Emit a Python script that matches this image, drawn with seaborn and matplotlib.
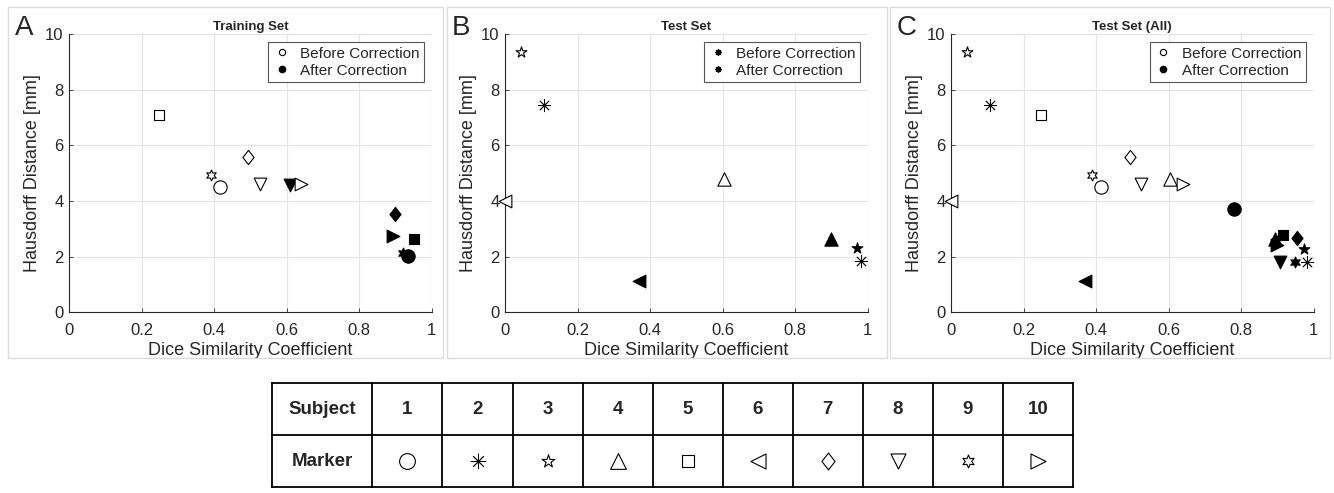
import numpy as np
import pandas as pd
import seaborn as sns
import matplotlib.pyplot as plt
from matplotlib.lines import Line2D
from matplotlib.patches import Rectangle
from matplotlib.path import Path

# subjects and the marker each one uses (matlab style)
subjects = [1, 2, 3, 4, 5, 6, 7, 8, 9, 10]

# training set (subjects 1,5,7,8,9,10)
train_subjects = [1, 5, 7, 8, 9, 10]
train_dsc_before = [0.415, 0.248, 0.493, 0.525, 0.39, 0.64]
train_hd_before = [4.49, 7.10, 5.60, 4.62, 4.92, 4.61]
train_dsc_after = [0.934, 0.95, 0.899, 0.61, 0.92, 0.893]
train_hd_after = [2.01, 2.63, 3.54, 4.59, 2.13, 2.73]

# test set (subjects 2,3,4,6)
test_subjects = [2, 3, 4, 6]
test_dsc_before = [0.108, 0.043, 0.603, 0.0]
test_hd_before = [7.45, 9.38, 4.80, 4.01]
test_dsc_after = [0.981, 0.97, 0.898, 0.37]
test_hd_after = [1.83, 2.31, 2.65, 1.14]

# test set (all subjects)
all_subjects = subjects
all_dsc_before = [0.415, 0.108, 0.043, 0.603, 0.248, 0.0, 0.493, 0.525, 0.39, 0.64]
all_hd_before = [4.49, 7.45, 9.38, 4.80, 7.10, 4.01, 5.60, 4.62, 4.92, 4.61]
all_dsc_after = [0.782, 0.982, 0.975, 0.895, 0.916, 0.37, 0.954, 0.908, 0.95, 0.90]
all_hd_after = [3.73, 1.80, 2.29, 2.65, 2.77, 1.14, 2.67, 1.80, 1.80, 2.42]

xticks = [0, 0.2, 0.4, 0.6, 0.8, 1]
xtick_labels = ['0', '0.2', '0.4', '0.6', '0.8', '1']
yticks = [0, 2, 4, 6, 8, 10]

# matlab-like diamond (wider than mpl 'd')
diamond = Path([(0, 1), (0.78, 0), (0, -1), (-0.78, 0), (0, 1)],
               [Path.MOVETO, Path.LINETO, Path.LINETO, Path.LINETO, Path.CLOSEPOLY])
asterisk = (8, 2, 0)

# marker, size (pt^2)
marker_style = {
    1: ('o', 92), 2: (asterisk, 80), 3: ('*', 66), 4: ('^', 92), 5: ('s', 48),
    6: ('<', 84), 7: (diamond, 105), 8: ('v', 84), 9: ((6, 1, 0), 62), 10: ('>', 84),
}

sns.set_style('ticks')
plt.rcParams['font.family'] = ['Liberation Sans', 'DejaVu Sans']

W, H = 1334, 493
fig = plt.figure(figsize=(W / 100, H / 100), dpi=100)


def px_axes(x0, y0, x1, y1):
    return fig.add_axes([x0 / W, 1 - y1 / H, (x1 - x0) / W, (y1 - y0) / H])


def make_df(subj, xb, yb, xa, ya):
    d1 = pd.DataFrame({'subject': subj, 'dsc': xb, 'hd': yb, 'state': 'before'})
    d2 = pd.DataFrame({'subject': subj, 'dsc': xa, 'hd': ya, 'state': 'after'})
    return pd.concat([d1, d2], ignore_index=True)


def draw_marker(ax, data, x, y, mk, sz, fc):
    if mk is asterisk:
        sns.scatterplot(data=data, x=x, y=y, marker=mk, s=sz, color='black',
                        linewidth=0.6, ax=ax, zorder=3, clip_on=False)
    else:
        sns.scatterplot(data=data, x=x, y=y, marker=mk, s=sz, color=fc,
                        edgecolor='black', linewidth=0.8, ax=ax, zorder=3,
                        clip_on=False)


panels = [
    ('A', 'Training Set', make_df(train_subjects, train_dsc_before, train_hd_before,
                                  train_dsc_after, train_hd_after), 69.3, 'o'),
    ('B', 'Test Set', make_df(test_subjects, test_dsc_before, test_hd_before,
                              test_dsc_after, test_hd_after), 505.3, 'ast'),
    ('C', 'Test Set (All)', make_df(all_subjects, all_dsc_before, all_hd_before,
                                    all_dsc_after, all_hd_after), 951.0, 'o'),
]

frames = [(8, 7, 443, 358), (447, 7, 887, 358), (890, 7, 1330, 358)]
for fx0, fy0, fx1, fy1 in frames:
    fig.patches.append(Rectangle((fx0 / W, 1 - fy1 / H), (fx1 - fx0) / W, (fy1 - fy0) / H,
                                 transform=fig.transFigure, fill=False,
                                 edgecolor='#dcdcdc', linewidth=1.0))

for letter, title, df, left, leg in panels:
    ax = px_axes(left, 34.3, left + 362.5, 312.2)
    for s in df['subject'].unique():
        mk, sz = marker_style[s]
        for state in ['before', 'after']:
            sub = df[(df['subject'] == s) & (df['state'] == state)]
            fc = 'white' if state == 'before' else 'black'
            draw_marker(ax, sub, 'dsc', 'hd', mk, sz, fc)
    ax.set_xlim(0, 1)
    ax.set_ylim(0, 10)
    ax.set_xticks(xticks)
    ax.set_xticklabels(xtick_labels)
    ax.set_yticks(yticks)
    ax.grid(True, color='#e4e4e4', linewidth=0.8)
    ax.set_axisbelow(True)
    for sp in ['top', 'right']:
        ax.spines[sp].set_visible(False)
    for sp in ['left', 'bottom']:
        ax.spines[sp].set_color('#262626')
        ax.spines[sp].set_linewidth(0.8)
    ax.tick_params(direction='in', length=3, width=0.6, labelsize=12, colors='#262626',
                   pad=4)
    ax.tick_params(axis='x', pad=8)
    ax.set_xlabel('Dice Similarity Coefficient', fontsize=13, labelpad=3, color='#262626')
    ax.set_ylabel('Hausdorff Distance [mm]', fontsize=13, labelpad=3, color='#262626')
    ax.set_title(title, fontsize=9.5, fontweight='bold', pad=3)

    if leg == 'o':
        handles = [Line2D([], [], marker='o', ls='', markersize=4.5, markerfacecolor='white',
                          markeredgecolor='black', markeredgewidth=0.8),
                   Line2D([], [], marker='o', ls='', markersize=4.5, markerfacecolor='black',
                          markeredgecolor='black')]
    else:
        handles = [Line2D([], [], marker=asterisk, ls='', markersize=4.5, color='black',
                          markeredgewidth=1.0),
                   Line2D([], [], marker=asterisk, ls='', markersize=4.5, color='black',
                          markeredgewidth=1.0)]
    lg = ax.legend(handles, ['Before Correction', 'After Correction'], loc='upper right',
                   fontsize=11, fancybox=False, framealpha=1, edgecolor='#555555',
                   borderaxespad=0.5, handlelength=1.2, handletextpad=0.6,
                   labelspacing=0.2, borderpad=0.3)
    lg.get_frame().set_linewidth(0.8)
    fig.text((left - 54) / W, 1 - 35 / H, letter, fontsize=20, va='baseline')

# marker table
tax = px_axes(272, 383, 1073, 487)
head_w = 100.5 / 70.1
table_font = ['Liberation Sans Narrow', 'Liberation Sans']
for xv in [0.5 - head_w] + [k + 0.5 for k in range(0, 11)]:
    tax.plot([xv, xv], [-0.5, 1.5], color='black', lw=1.3, clip_on=False,
             solid_capstyle='projecting')
for yv in [-0.5, 0.5, 1.5]:
    tax.plot([0.5 - head_w, 10.5], [yv, yv], color='black', lw=1.3, clip_on=False,
             solid_capstyle='projecting')
tax.text(0.5 - head_w / 2, 0, 'Subject', ha='center', va='center', fontsize=13.5,
         fontweight='bold', family=table_font)
tax.text(0.5 - head_w / 2, 1, 'Marker', ha='center', va='center', fontsize=13.5,
         fontweight='bold', family=table_font)
for s in subjects:
    tax.text(s, 0, str(s), ha='center', va='center', fontsize=13.5, fontweight='bold',
             family=table_font)
    mk, sz = marker_style[s]
    row = pd.DataFrame({'subject': [s], 'row': [1]})
    draw_marker(tax, row, 'subject', 'row', mk, sz * 1.4, 'white')
tax.set_xlim(0.5 - head_w, 10.5)
tax.set_ylim(1.5, -0.5)
tax.axis('off')

fig.savefig('out.png', dpi=100)
